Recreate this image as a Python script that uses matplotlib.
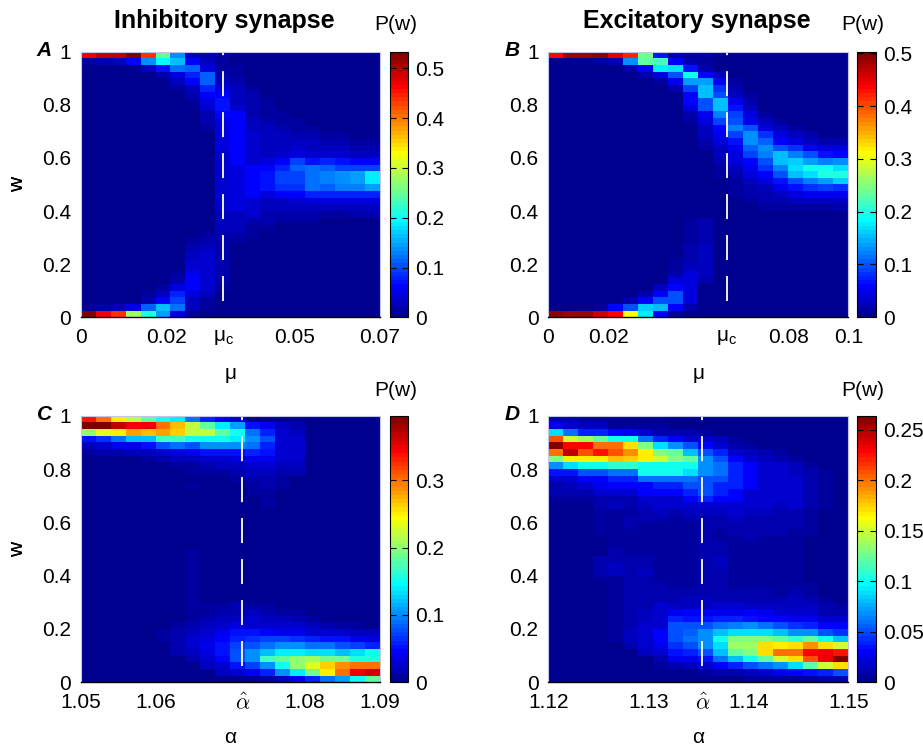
import numpy as np
import matplotlib
matplotlib.use("Agg")
import matplotlib.pyplot as plt
from matplotlib.colors import ListedColormap

plt.rcParams['font.family'] = ['Liberation Sans', 'DejaVu Sans']
plt.rcParams['mathtext.fontset'] = 'custom'
plt.rcParams['mathtext.rm'] = 'Liberation Sans'
plt.rcParams['mathtext.it'] = 'Liberation Sans:italic'
plt.rcParams['lines.scale_dashes'] = False

# ---------------- data (P(w) in units of 0.001; rows listed from w=1 (top) down to w=0) ----------
W_RANGE = [0.0, 1.0]

MU_RANGE_INH = [0.0, 0.07]
MU_C_INH = 0.0333
P_INH_MU = [
"470 500 500 530 440 250 140 30 20 10 0 0 0 0 0 0 0 0 0 0",
"10 20 30 60 140 200 160 60 30 10 5 0 0 0 0 0 0 0 0 0",
"0 0 0 5 30 70 120 110 50 10 10 0 0 0 0 0 0 0 0 0",
"0 0 0 0 0 20 50 80 110 20 10 0 0 0 0 0 0 0 0 0",
"0 0 0 0 0 0 30 60 110 30 20 0 0 0 0 0 0 0 0 0",
"0 0 0 0 0 0 10 30 80 50 30 10 0 0 0 0 0 0 0 0",
"0 0 0 0 0 0 0 20 60 60 30 20 0 0 0 0 0 0 0 0",
"0 0 0 0 0 0 0 10 50 70 30 20 10 0 0 0 0 0 0 0",
"0 0 0 0 0 0 0 0 40 70 40 20 10 0 0 0 0 0 0 0",
"0 0 0 0 0 0 0 0 20 65 60 20 10 10 0 0 0 0 0 0",
"0 0 0 0 0 0 0 0 20 50 65 30 20 10 10 0 0 0 0 0",
"0 0 0 0 0 0 0 0 10 50 65 30 30 20 10 10 0 0 0 0",
"0 0 0 0 0 0 0 0 0 50 65 40 30 30 20 20 10 10 0 0",
"0 0 0 0 0 0 0 0 0 50 65 40 30 30 30 30 20 20 10 10",
"0 0 0 0 0 0 0 0 0 45 65 40 30 30 40 30 30 30 20 20",
"0 0 0 0 0 0 0 0 0 40 65 40 30 40 50 40 40 40 30 30",
"0 0 0 0 0 0 0 0 0 35 65 40 50 60 100 70 80 70 60 60",
"0 0 0 0 0 0 0 0 0 35 50 60 60 80 110 120 110 100 100 100",
"0 0 0 0 0 0 0 0 0 35 50 60 70 100 100 120 130 140 150 190",
"0 0 0 0 0 0 0 0 0 35 50 60 70 100 100 120 130 140 150 190",
"0 0 0 0 0 0 0 0 0 35 50 60 70 90 90 120 110 130 130 150",
"0 0 0 0 0 0 0 0 0 35 50 60 50 60 60 80 80 80 80 80",
"0 0 0 0 0 0 0 0 0 35 50 40 30 30 40 50 50 50 50 50",
"0 0 0 0 0 0 0 0 0 35 50 40 30 30 30 30 30 30 30 30",
"0 0 0 0 0 0 0 0 0 30 30 40 20 20 20 20 10 10 20 20",
"0 0 0 0 0 0 0 0 0 30 30 20 20 10 10 10 5 5 5 5",
"0 0 0 0 0 0 0 0 0 30 30 10 10 5 0 0 0 0 0 0",
"0 0 0 0 0 0 0 0 10 25 20 10 0 0 0 0 0 0 0 0",
"0 0 0 0 0 0 0 10 20 20 10 0 0 0 0 0 0 0 0 0",
"0 0 0 0 0 0 0 20 30 25 0 0 0 0 0 0 0 0 0 0",
"0 0 0 0 0 0 0 30 35 25 0 0 0 0 0 0 0 0 0 0",
"0 0 0 0 0 0 0 35 35 25 0 0 0 0 0 0 0 0 0 0",
"0 0 0 0 0 0 0 40 35 25 0 0 0 0 0 0 0 0 0 0",
"0 0 0 0 0 0 10 55 40 25 0 0 0 0 0 0 0 0 0 0",
"0 0 0 0 0 0 20 60 40 20 0 0 0 0 0 0 0 0 0 0",
"0 0 0 0 0 10 50 65 40 10 0 0 0 0 0 0 0 0 0 0",
"0 0 0 0 10 30 80 50 30 0 0 0 0 0 0 0 0 0 0 0",
"0 0 0 0 20 60 100 30 10 0 0 0 0 0 0 0 0 0 0 0",
"10 10 20 50 110 160 120 30 10 0 0 0 0 0 0 0 0 0 0 0",
"530 470 440 280 210 150 50 10 0 0 0 0 0 0 0 0 0 0 0 0",
]

MU_RANGE_EXC = [0.0, 0.1]
MU_C_EXC = 0.0595
P_EXC_MU = [
"440 480 480 490 450 420 240 70 20 10 10 0 0 0 0 0 0 0 0 0",
"5 5 5 10 20 130 230 220 60 20 10 0 0 0 0 0 0 0 0 0",
"0 0 0 0 0 20 60 180 170 70 20 0 0 0 0 0 0 0 0 0",
"0 0 0 0 0 0 20 40 100 190 60 30 0 0 0 0 0 0 0 0",
"0 0 0 0 0 0 0 10 50 140 140 50 10 0 0 0 0 0 0 0",
"0 0 0 0 0 0 0 0 20 90 150 80 20 0 0 0 0 0 0 0",
"0 0 0 0 0 0 0 0 0 60 150 100 30 10 0 0 0 0 0 0",
"0 0 0 0 0 0 0 0 0 60 100 150 50 20 0 0 0 0 0 0",
"0 0 0 0 0 0 0 0 0 40 100 150 70 30 0 0 0 0 0 0",
"0 0 0 0 0 0 0 0 0 20 50 120 90 40 10 0 0 0 0 0",
"0 0 0 0 0 0 0 0 0 10 40 90 100 50 30 10 0 0 0 0",
"0 0 0 0 0 0 0 0 0 0 30 60 120 100 40 30 10 0 0 0",
"0 0 0 0 0 0 0 0 0 0 30 50 90 130 80 40 30 20 0 0",
"0 0 0 0 0 0 0 0 0 0 20 40 70 130 110 60 40 30 20 20",
"0 0 0 0 0 0 0 0 0 0 10 30 50 110 130 100 80 50 40 40",
"0 0 0 0 0 0 0 0 0 0 0 30 40 90 120 150 120 100 70 60",
"0 0 0 0 0 0 0 0 0 0 0 20 40 60 100 150 160 140 120 130",
"0 0 0 0 0 0 0 0 0 0 0 10 30 50 80 120 170 190 190 170",
"0 0 0 0 0 0 0 0 0 0 0 10 20 40 60 100 150 170 200 200",
"0 0 0 0 0 0 0 0 0 0 0 0 10 30 40 70 100 120 140 160",
"0 0 0 0 0 0 0 0 0 0 0 0 10 20 30 50 70 80 90 80",
"0 0 0 0 0 0 0 0 0 0 0 0 10 20 20 30 40 50 50 50",
"0 0 0 0 0 0 0 0 0 0 0 0 0 10 20 20 30 30 30 30",
"0 0 0 0 0 0 0 0 0 0 0 0 0 0 10 10 10 10 10 20",
"0 0 0 0 0 0 0 0 0 0 0 0 0 0 0 0 0 0 0 0",
"0 0 0 0 0 0 0 0 0 10 20 0 0 0 0 0 0 0 0 0",
"0 0 0 0 0 0 0 0 0 10 20 0 0 0 0 0 0 0 0 0",
"0 0 0 0 0 0 0 0 0 10 20 0 0 0 0 0 0 0 0 0",
"0 0 0 0 0 0 0 0 0 10 20 0 0 0 0 0 0 0 0 0",
"0 0 0 0 0 0 0 0 0 20 30 0 0 0 0 0 0 0 0 0",
"0 0 0 0 0 0 0 0 0 20 30 0 0 0 0 0 0 0 0 0",
"0 0 0 0 0 0 0 0 10 20 30 0 0 0 0 0 0 0 0 0",
"0 0 0 0 0 0 0 0 10 30 30 0 0 0 0 0 0 0 0 0",
"0 0 0 0 0 0 0 0 20 40 30 0 0 0 0 0 0 0 0 0",
"0 0 0 0 0 0 0 0 40 40 20 0 0 0 0 0 0 0 0 0",
"0 0 0 0 0 0 0 30 60 40 0 0 0 0 0 0 0 0 0 0",
"0 0 0 0 0 0 20 60 100 40 0 0 0 0 0 0 0 0 0 0",
"0 0 0 0 0 20 60 100 100 40 0 0 0 0 0 0 0 0 0 0",
"0 0 0 10 60 100 160 150 60 20 0 0 0 0 0 0 0 0 0 0",
"490 480 480 460 440 310 180 60 10 0 0 0 0 0 0 0 0 0 0 0",
]

ALPHA_RANGE_INH = [1.05, 1.09]
ALPHA_HAT_INH = 1.0716
P_INH_ALPHA = [
"340 300 250 220 180 150 140 90 60 40 30 5 0 0 0 0 0 0 0 0",
"390 390 370 350 350 300 270 220 180 140 110 50 40 20 15 0 0 0 0 0",
"200 230 250 280 270 280 260 220 220 180 150 90 60 30 20 0 0 0 0 0",
"55 65 90 120 120 170 170 150 150 150 140 100 80 30 30 0 0 0 0 0",
"20 30 40 40 50 80 90 80 100 100 100 90 60 30 30 0 0 0 0 0",
"10 15 15 20 20 30 35 40 50 55 50 60 50 30 25 0 0 0 0 0",
"0 0 0 0 10 15 20 20 25 30 35 40 40 25 25 0 0 0 0 0",
"0 0 0 0 0 0 10 10 15 20 20 30 30 20 20 0 0 0 0 0",
"0 0 0 0 0 0 0 10 10 10 15 20 20 15 15 0 0 0 0 0",
"0 0 0 0 0 0 0 0 0 5 10 15 15 10 0 0 0 0 0 0",
"0 0 0 0 0 0 0 10 0 0 0 10 15 10 0 0 0 0 0 0",
"0 0 0 0 0 0 0 0 0 0 0 10 10 0 0 0 0 0 0 0",
"0 0 0 0 0 0 0 0 0 0 0 5 10 0 0 0 0 0 0 0",
"0 0 0 0 0 0 0 0 0 0 0 0 10 0 0 0 0 0 0 0",
"0 0 0 0 0 0 0 0 0 0 0 0 0 0 0 0 0 0 0 0",
"0 0 0 0 0 0 0 0 0 0 0 0 0 0 0 0 0 0 0 0",
"0 0 0 0 0 0 0 0 0 0 0 0 0 0 0 0 0 0 0 0",
"0 0 0 0 0 0 0 0 0 0 0 0 0 0 0 0 0 0 0 0",
"0 0 0 0 0 0 0 0 0 0 0 0 0 0 0 0 0 0 0 0",
"0 0 0 0 0 0 0 0 0 0 0 0 0 0 0 0 0 0 0 0",
"0 0 0 0 0 0 0 10 0 0 0 0 0 0 0 0 0 0 0 0",
"0 0 0 0 0 0 0 10 0 0 0 0 0 0 0 0 0 0 0 0",
"0 0 0 0 0 0 0 10 0 0 0 0 0 0 0 0 0 0 0 0",
"0 0 0 0 0 0 0 10 0 0 0 0 0 0 0 0 0 0 0 0",
"0 0 0 0 0 0 0 10 0 0 0 0 0 0 0 0 0 0 0 0",
"0 0 0 0 0 0 0 10 0 0 0 0 0 0 0 0 0 0 0 0",
"0 0 0 0 0 0 0 10 0 0 0 0 0 0 0 0 0 0 0 0",
"0 0 0 0 0 0 0 10 5 0 0 0 0 0 0 0 0 0 0 0",
"0 0 0 0 0 0 0 10 10 10 15 10 10 5 0 0 0 0 0 0",
"0 0 0 0 0 0 0 10 10 15 15 20 15 10 10 0 0 0 0 0",
"0 0 0 0 0 0 5 10 15 20 20 25 20 20 15 10 0 0 0 0",
"0 0 0 0 0 0 10 15 20 30 35 30 30 25 25 20 15 10 10 0",
"0 0 0 0 0 10 15 20 30 40 50 50 45 40 40 30 30 25 20 20",
"0 0 0 0 0 10 15 25 35 45 60 65 70 70 65 60 55 50 40 35",
"0 0 0 0 0 0 15 25 40 50 70 80 90 100 100 90 90 80 70 60",
"0 0 0 0 0 0 15 20 35 50 80 100 120 140 140 130 130 120 130 150",
"0 0 0 0 0 0 0 15 30 45 80 100 170 180 200 210 190 190 160 160",
"0 0 0 0 0 0 0 0 20 30 50 70 100 150 200 230 260 290 300 300",
"0 0 0 0 0 0 0 0 0 20 30 40 60 100 140 190 250 300 350 360",
"0 0 0 0 0 0 0 0 0 0 0 0 10 20 40 60 90 110 150 180",
]

ALPHA_RANGE_EXC = [1.12, 1.15]
ALPHA_HAT_EXC = 1.1354
P_EXC_ALPHA = [
"10 10 5 5 0 0 0 0 0 0 0 0 0 0 0 0 0 0 0 0",
"25 20 15 15 5 5 5 5 0 0 0 0 0 0 0 0 0 0 0 0",
"90 60 40 40 30 25 20 10 10 10 5 0 0 0 0 0 0 0 0 0",
"210 150 140 120 100 100 60 40 30 20 20 15 5 0 0 0 0 0 0 0",
"260 230 230 200 200 170 130 90 70 50 30 20 10 5 0 0 0 0 0 0",
"200 245 210 225 210 190 165 130 120 80 50 40 20 15 10 5 0 0 0 0",
"130 165 165 165 180 175 165 150 130 120 70 50 30 20 15 10 5 0 0 0",
"70 90 100 100 110 110 100 100 100 100 70 60 40 30 20 20 15 5 0 0",
"35 35 50 50 60 60 100 100 100 90 70 60 40 30 20 20 15 10 5 0",
"20 20 30 30 40 40 60 60 60 60 50 50 40 30 20 20 20 10 5 0",
"10 15 20 25 30 30 30 40 40 50 50 40 40 30 20 20 20 10 5 0",
"10 10 10 20 20 20 30 30 30 40 50 40 30 20 20 20 20 10 5 0",
"5 5 5 10 10 10 20 20 20 30 40 30 30 20 20 20 20 10 5 0",
"0 0 0 10 15 10 15 20 20 20 20 20 20 20 20 15 20 10 5 0",
"0 0 0 5 5 5 10 15 10 15 15 15 20 15 15 10 10 5 0 0",
"0 0 0 5 5 10 10 10 5 10 10 10 15 10 10 10 10 5 0 0",
"0 0 0 5 5 10 5 5 5 5 10 10 10 10 10 10 10 5 0 0",
"0 0 0 5 5 5 5 5 5 5 10 5 10 10 10 10 5 5 0 0",
"0 0 0 0 5 5 5 5 5 5 10 5 5 10 5 5 5 0 0 0",
"0 0 0 0 5 5 5 5 5 5 10 10 5 5 5 5 5 0 0 0",
"0 0 0 0 10 5 5 5 5 5 10 10 5 5 5 5 5 0 0 0",
"0 0 0 10 10 10 10 5 5 5 10 15 5 5 5 5 5 0 0 0",
"0 0 0 10 15 10 10 5 5 5 10 15 5 5 5 5 5 0 0 0",
"0 0 0 10 15 10 15 5 5 5 10 10 5 5 5 5 5 0 0 0",
"0 0 0 5 5 10 10 5 5 5 10 10 5 5 5 5 5 0 0 0",
"0 0 0 0 5 10 10 10 5 5 10 10 5 5 5 5 5 5 0 0",
"0 0 0 0 5 10 10 10 10 10 10 10 10 10 10 5 10 5 0 0",
"0 0 0 0 5 10 10 10 10 15 15 10 10 10 10 10 15 10 5 0",
"0 0 0 0 5 10 10 20 15 15 15 20 20 15 15 15 15 15 10 5",
"0 0 0 0 5 10 15 20 25 30 25 25 25 30 25 20 20 20 10 10",
"0 0 0 0 5 10 15 20 40 35 35 40 40 35 30 30 25 25 20 20",
"0 0 0 0 5 10 20 20 50 50 50 60 65 70 60 50 45 40 30 30",
"0 0 0 0 5 15 20 30 50 55 70 80 90 90 90 80 70 70 50 45",
"0 0 0 0 5 15 20 30 50 60 70 100 130 130 130 120 110 120 100 80",
"0 0 0 0 0 10 20 25 45 50 70 90 140 140 170 165 170 190 170 150",
"0 0 0 0 0 0 15 20 35 40 50 80 120 130 170 200 200 230 235 225",
"0 0 0 0 0 0 0 10 25 25 35 60 80 100 120 150 170 210 235 260",
"0 0 0 0 0 0 0 5 10 15 20 30 40 50 60 70 90 120 150 170",
"0 0 0 0 0 0 0 0 0 0 5 10 10 15 20 25 30 35 40 50",
"0 0 0 0 0 0 0 0 0 0 0 0 0 5 5 5 5 5 10 10",
]

# colour limits and tick labels
VMAX = [0.5335, 0.503, 0.396, 0.264]
CBAR_TICKS = [[0, 0.1, 0.2, 0.3, 0.4, 0.5],
              [0, 0.1, 0.2, 0.3, 0.4, 0.5],
              [0, 0.1, 0.2, 0.3],
              [0, 0.05, 0.1, 0.15, 0.2, 0.25]]
CBAR_LABELS = [['0', '0.1', '0.2', '0.3', '0.4', '0.5'],
               ['0', '0.1', '0.2', '0.3', '0.4', '0.5'],
               ['0', '0.1', '0.2', '0.3'],
               ['0', '0.05', '0.1', '0.15', '0.2', '0.25']]
W_TICKS = [0, 0.2, 0.4, 0.6, 0.8, 1]
W_TICK_LABELS = ['0', '0.2', '0.4', '0.6', '0.8', '1']
XTICKS = [[0, 0.02, MU_C_INH, 0.05, 0.07],
          [0, 0.02, MU_C_EXC, 0.08, 0.1],
          [1.05, 1.06, ALPHA_HAT_INH, 1.08, 1.09],
          [1.12, 1.13, ALPHA_HAT_EXC, 1.14, 1.15]]
MU_C_LABEL = 'μ$_\\mathregular{c}$'
ALPHA_HAT_LABEL = r'$\hat{\alpha}$'
XTICK_LABELS = [['0', '0.02', MU_C_LABEL, '0.05', '0.07'],
                ['0', '0.02', MU_C_LABEL, '0.08', '0.1'],
                ['1.05', '1.06', ALPHA_HAT_LABEL, '1.08', '1.09'],
                ['1.12', '1.13', ALPHA_HAT_LABEL, '1.14', '1.15']]
XLABELS = ['μ', 'μ', 'α', 'α']
PANEL_LETTERS = ['A', 'B', 'C', 'D']
TITLES = ['Inhibitory synapse', 'Excitatory synapse']
DASH_BOTTOM = 0.06


def to_grid(rows):
    g = np.array([[float(v) for v in r.split()] for r in rows]) / 1000.0
    assert g.shape == (40, 20), g.shape
    return g


def matlab_jet(m=64):
    n = int(np.ceil(m / 4))
    u = np.concatenate([np.arange(1, n + 1) / n, np.ones(n - 1), np.arange(n, 0, -1) / n])
    g = int(np.ceil(n / 2)) - (1 if m % 4 == 1 else 0) + np.arange(1, len(u) + 1)
    r = g + n
    b = g - n
    J = np.zeros((m, 3))
    for col, idx in ((0, r), (1, g), (2, b)):
        ok = (idx >= 1) & (idx <= m)
        J[idx[ok] - 1, col] = u[ok]
    return ListedColormap(J)


CMAP = matlab_jet(64)

WPX, HPX = 923, 747
fig = plt.figure(figsize=(WPX / 100, HPX / 100), dpi=100)


def px_axes(l, t, r, b):
    return fig.add_axes([l / WPX, 1 - b / HPX, (r - l) / WPX, (b - t) / HPX])


grids = [to_grid(P_INH_MU), to_grid(P_EXC_MU), to_grid(P_INH_ALPHA), to_grid(P_EXC_ALPHA)]
xranges = [MU_RANGE_INH, MU_RANGE_EXC, ALPHA_RANGE_INH, ALPHA_RANGE_EXC]
xcrit = [MU_C_INH, MU_C_EXC, ALPHA_HAT_INH, ALPHA_HAT_EXC]
boxes = [(80.7, 51.7, 380.0, 317.3), (548.3, 51.7, 848.3, 317.3),
         (80.7, 415.7, 380.0, 682.3), (548.3, 415.7, 848.3, 682.3)]
cboxes = [(390.0, 51.7, 408.3, 317.3), (857.3, 51.7, 876.0, 317.3),
          (390.0, 415.7, 408.3, 682.3), (857.3, 415.7, 876.0, 682.3)]
letter_pos = [(44, 51), (512, 51), (45, 415), (512, 415)]
pw_pos = [(396, 25), (863, 25), (396, 390), (863, 390)]
xlabel_baseline = [379, 379, 743, 743]

FS = 15
for i in range(4):
    grid = grids[i]
    ax = px_axes(*boxes[i])
    xe = np.linspace(xranges[i][0], xranges[i][1], grid.shape[1] + 1)
    ye = np.linspace(W_RANGE[0], W_RANGE[1], grid.shape[0] + 1)
    mesh = ax.pcolormesh(xe, ye, grid[::-1], cmap=CMAP, vmin=0, vmax=VMAX[i],
                         shading='flat', rasterized=True)
    ax.set_xlim(xranges[i])
    ax.set_ylim(W_RANGE)
    ax.plot([xcrit[i], xcrit[i]], [DASH_BOTTOM, W_RANGE[1]], color='white', lw=1.3,
            linestyle=(0, (18, 11.5)), solid_capstyle='butt', dash_capstyle='butt')
    ax.set_yticks(W_TICKS)
    ax.set_yticklabels(W_TICK_LABELS, fontsize=FS)
    ax.set_xticks(XTICKS[i])
    ax.set_xticklabels(XTICK_LABELS[i], fontsize=FS)
    for lab in ax.get_xticklabels():
        if 'alpha' in lab.get_text():
            lab.set_math_fontfamily('cm')
            lab.set_fontsize(16)
    ax.tick_params(axis='both', length=0)
    ax.tick_params(axis='y', pad=7)
    ax.tick_params(axis='x', pad=8)
    for s in ('top', 'right', 'left'):
        ax.spines[s].set_color('#c4c4e6')
        ax.spines[s].set_linewidth(0.8)
    ax.spines['bottom'].set_color('black')
    ax.spines['bottom'].set_linewidth(1.0)
    ax.set_ylabel('w', fontsize=FS, va='center')
    ax.yaxis.set_label_coords((17.5 - boxes[i][0]) / (boxes[i][2] - boxes[i][0]), 0.5)
    ax.set_xlabel(XLABELS[i], fontsize=FS, va='baseline')
    ax.xaxis.set_label_coords(0.5, (boxes[i][3] - xlabel_baseline[i]) / (boxes[i][3] - boxes[i][1]))

    cax = px_axes(*cboxes[i])
    cb = fig.colorbar(mesh, cax=cax)
    cb.set_ticks(CBAR_TICKS[i])
    cb.set_ticklabels(CBAR_LABELS[i])
    cb.outline.set_linewidth(0.8)
    cb.outline.set_edgecolor('black')
    cax.tick_params(axis='y', direction='in', length=4, width=0.8, left=True, right=True,
                    labelleft=False, labelright=True, labelsize=FS, pad=5)

    fig.text(letter_pos[i][0] / WPX, 1 - letter_pos[i][1] / HPX, PANEL_LETTERS[i],
             fontsize=FS, fontweight='bold', fontstyle='italic', ha='center', va='center')
    fig.text(pw_pos[i][0] / WPX, 1 - pw_pos[i][1] / HPX, 'P(w)', fontsize=FS,
             ha='center', va='center')

fig.text(224 / WPX, 1 - 21 / HPX, TITLES[0], fontsize=18, fontweight='bold',
         ha='center', va='center')
fig.text(697 / WPX, 1 - 21 / HPX, TITLES[1], fontsize=18, fontweight='bold',
         ha='center', va='center')

fig.savefig('out.png', dpi=100)
